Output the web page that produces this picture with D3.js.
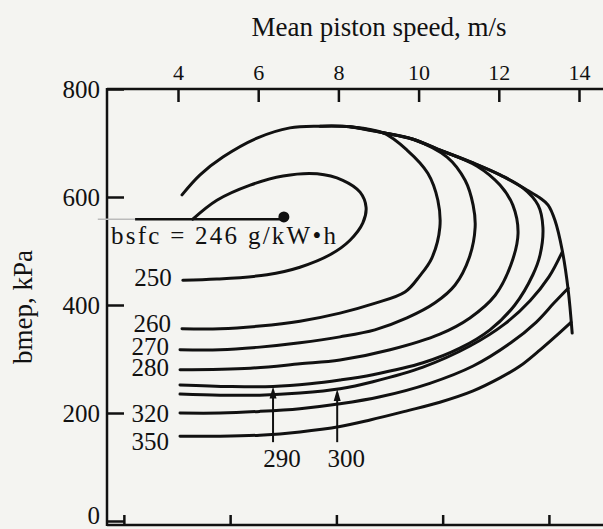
<!DOCTYPE html>
<meta charset="utf-8">
<style>
    body {
        margin: 0;
        background: #f4f4f1;
    }

    svg {
        display: block;
        font-family: "Liberation Serif", "DejaVu Serif", serif;
    }

    .contour {
        fill: none;
        stroke: #111;
        stroke-width: 3;
        stroke-linejoin: round;
        stroke-linecap: round;
    }

    .axis line {
        stroke: #111;
        stroke-width: 2.5;
    }

    text {
        fill: #111;
        font-family: "Liberation Serif", "DejaVu Serif", serif;
    }
</style>

<body>
    <svg width="603" height="529"></svg>

    <script src="https://d3js.org/d3.v7.min.js"></script>
    <script>
        // axes
        const speedTicks = [4, 6, 8, 10, 12, 14];
        const bmepTicks = [0, 200, 400, 600, 800];
        const rpmTicks = [1000, 2000, 3000, 4000, 5000];
        const strokeMm = 79.5;

        // bsfc contours, [mean piston speed m/s, bmep kPa]
        const bsfc250 = [[4.37, 559], [4.97, 594], [5.80, 622], [6.62, 639], [7.47, 643], [8.11, 631], [8.54, 609], [8.69, 581], [8.61, 552], [8.29, 520], [7.79, 493], [7.04, 470], [6.22, 456], [4.97, 448], [4.12, 446]];
        const bsfc260 = [[4.10, 604], [4.55, 641], [5.12, 674], [5.97, 709], [6.79, 728], [7.54, 731], [8.29, 730], [9.11, 719], [9.71, 687], [10.23, 644], [10.48, 594], [10.53, 544], [10.33, 487], [10.03, 454], [9.66, 424], [8.86, 402], [8.04, 385], [7.04, 370], [6.04, 361], [5.05, 356], [4.10, 356]];
        const bsfc270 = [[8.29, 730], [9.11, 719], [9.86, 707], [10.71, 674], [11.16, 631], [11.36, 585], [11.41, 544], [11.26, 487], [10.91, 437], [10.41, 404], [9.71, 376], [8.91, 354], [8.04, 341], [7.04, 330], [6.04, 322], [5.05, 317], [4.05, 317]];
        const bsfc280 = [[9.11, 719], [9.86, 707], [10.53, 687], [11.46, 657], [12.03, 622], [12.35, 585], [12.48, 533], [12.30, 474], [11.91, 418], [11.28, 376], [10.53, 346], [9.29, 317], [8.04, 298], [7.04, 291], [5.80, 283], [4.05, 280]];
        const bsfc290 = [[10.53, 687], [11.36, 663], [12.03, 641], [12.60, 617], [12.98, 585], [13.10, 544], [13.03, 493], [12.85, 456], [12.40, 400], [11.78, 354], [11.03, 320], [10.11, 293], [8.86, 271], [8.04, 261], [7.29, 254], [6.37, 249], [5.30, 249], [4.05, 252]];
        const bsfc300 = [[13.58, 498], [13.25, 452], [12.78, 408], [12.15, 365], [11.28, 324], [10.11, 285], [8.86, 258], [8.04, 245], [7.04, 237], [6.04, 233], [5.05, 233], [4.05, 235]];
        const bsfc320 = [[13.73, 431], [13.38, 404], [12.93, 368], [12.30, 330], [11.36, 287], [10.28, 255], [9.04, 230], [8.04, 217], [7.04, 208], [6.04, 203], [5.05, 200], [4.05, 200]];
        const bsfc350 = [[13.80, 368], [13.43, 343], [13.03, 317], [12.53, 287], [12.03, 265], [11.36, 241], [10.53, 220], [9.71, 204], [8.79, 187], [8.04, 175], [7.04, 165], [6.04, 159], [5.05, 157], [4.05, 157]];
        const fullLoad = [[7.54, 731], [8.29, 730], [9.11, 719], [9.86, 707], [10.53, 687], [11.36, 663], [12.03, 641], [12.70, 613], [13.03, 598], [13.23, 585], [13.40, 557], [13.58, 502], [13.73, 428], [13.83, 348]];

        const contours = [
            { level: 250, pts: bsfc250 },
            { level: 260, pts: bsfc260 },
            { level: 270, pts: bsfc270 },
            { level: 280, pts: bsfc280 },
            { level: 290, pts: bsfc290 },
            { level: 300, pts: bsfc300 },
            { level: 320, pts: bsfc320 },
            { level: 350, pts: bsfc350 }
        ];
        const leftLabelled = [250, 260, 270, 280, 320, 350];
        const leaderLevels = [290, 300];
        const leaderSpeeds = [6.37, 7.97];

        const minBsfc = 246;
        const minPoint = [6.64, 563];
        const minLeaderBmep = 559;
        const minLeaderStart = 2.93;

        const svg = d3.select("svg");
        const W = +svg.attr("width");

        const x = d3.scaleLinear().domain([4, 14]).range([178, 579]);
        const y = d3.scaleLinear().domain([0, 800]).range([521, 89]);
        const rpm = d3.scaleLinear().domain([0, 5000]).range([x(0), x(5000 * strokeMm / 30000)]);

        const xLeft = 107, yTop = y(800), yBottom = y(0) + 4;

        // frame lines
        const frame = svg.append("g").attr("class", "axis");
        frame.append("line").attr("x1", xLeft).attr("x2", W).attr("y1", yTop).attr("y2", yTop);
        frame.append("line").attr("x1", xLeft).attr("x2", xLeft).attr("y1", yTop - 1).attr("y2", yBottom + 1);
        frame.append("line").attr("x1", xLeft).attr("x2", W).attr("y1", yBottom).attr("y2", yBottom);

        // top axis: piston speed
        const gTop = svg.append("g").attr("class", "axis")
            .attr("transform", `translate(0,${yTop})`)
            .call(d3.axisTop(x).tickValues(speedTicks).tickSize(-13).tickSizeOuter(0).tickPadding(9))
            .attr("font-family", null)
            .attr("font-size", 22);
        gTop.select(".domain").remove();

        // left axis: bmep
        const gLeft = svg.append("g").attr("class", "axis")
            .attr("transform", `translate(${xLeft},0)`)
            .call(d3.axisLeft(y).tickValues(bmepTicks).tickSize(-17).tickSizeOuter(0).tickPadding(7))
            .attr("font-family", null)
            .attr("font-size", 25);
        gLeft.select(".domain").remove();
        gLeft.selectAll(".tick text").filter(d => d === 0).attr("dy", "0.1em");

        // bottom axis: engine speed (labels fall outside the picture)
        const gBot = svg.append("g").attr("class", "axis")
            .attr("transform", `translate(0,${yBottom})`)
            .call(d3.axisBottom(rpm).tickValues(rpmTicks).tickSize(-10).tickSizeOuter(0).tickFormat(""));
        gBot.select(".domain").remove();

        svg.append("text")
            .attr("x", 379).attr("y", 36)
            .attr("text-anchor", "middle")
            .attr("font-size", 27)
            .text("Mean piston speed, m/s");

        svg.append("text")
            .attr("transform", "translate(32,307) rotate(-90)")
            .attr("text-anchor", "middle")
            .attr("font-size", 27)
            .text("bmep, kPa");

        // contours
        const line = d3.line()
            .x(d => x(d[0]))
            .y(d => y(d[1]))
            .curve(d3.curveCatmullRom.alpha(0.5));

        svg.append("g")
            .selectAll("path")
            .data(contours)
            .join("path")
            .attr("class", "contour")
            .attr("d", d => line(d.pts));

        svg.append("path")
            .attr("class", "contour")
            .attr("stroke-width", 3.5)
            .attr("d", line(fullLoad));

        // left labels, nudged apart where they crowd
        const nudge = { 250: -3, 260: -5, 270: -3, 280: -2, 320: 0, 350: 5 };
        svg.append("g")
            .selectAll("text")
            .data(contours.filter(c => leftLabelled.includes(c.level)))
            .join("text")
            .attr("x", d => x(d.pts[d.pts.length - 1][0]) - 11)
            .attr("y", d => y(d.pts[d.pts.length - 1][1]) + nudge[d.level])
            .attr("text-anchor", "end")
            .attr("dominant-baseline", "central")
            .attr("font-size", 25)
            .text(d => d.level);

        // leaders for 290 and 300
        function bmepAt(pts, s) {
            for (let i = pts.length - 1; i > 0; i--) {
                const a = pts[i], b = pts[i - 1];
                if (s >= a[0] && s <= b[0]) {
                    return a[1] + (b[1] - a[1]) * (s - a[0]) / (b[0] - a[0]);
                }
            }
            return pts[pts.length - 1][1];
        }

        leaderLevels.forEach((lev, i) => {
            const c = contours.find(k => k.level === lev);
            const s = leaderSpeeds[i];
            const tip = y(bmepAt(c.pts, s));
            const xs = x(s);
            svg.append("line")
                .attr("x1", xs).attr("x2", xs)
                .attr("y1", tip + 4).attr("y2", y(146))
                .attr("stroke", "#111").attr("stroke-width", 2);
            svg.append("path")
                .attr("d", `M${xs},${tip} L${xs - 3.5},${tip + 12} L${xs + 3.5},${tip + 12} Z`)
                .attr("fill", "#111");
            svg.append("text")
                .attr("x", xs + 9).attr("y", y(146) + 25)
                .attr("text-anchor", "middle")
                .attr("font-size", 25)
                .text(lev);
        });

        // minimum bsfc point
        svg.append("line")
            .attr("x1", x(2.0)).attr("x2", x(minLeaderStart))
            .attr("y1", y(minLeaderBmep)).attr("y2", y(minLeaderBmep))
            .attr("stroke", "#bbb").attr("stroke-width", 1.5);
        svg.append("line")
            .attr("x1", x(minLeaderStart)).attr("x2", x(minPoint[0]))
            .attr("y1", y(minLeaderBmep)).attr("y2", y(minLeaderBmep))
            .attr("stroke", "#111").attr("stroke-width", 2.5);
        svg.append("circle")
            .attr("cx", x(minPoint[0])).attr("cy", y(minPoint[1]))
            .attr("r", 5.5).attr("fill", "#111");
        svg.append("text")
            .attr("x", xLeft + 4).attr("y", y(minLeaderBmep) + 25)
            .attr("font-size", 25)
            .attr("textLength", 225)
            .attr("lengthAdjust", "spacing")
            .text(`bsfc = ${minBsfc} g/kW•h`);
    </script>
</body>
